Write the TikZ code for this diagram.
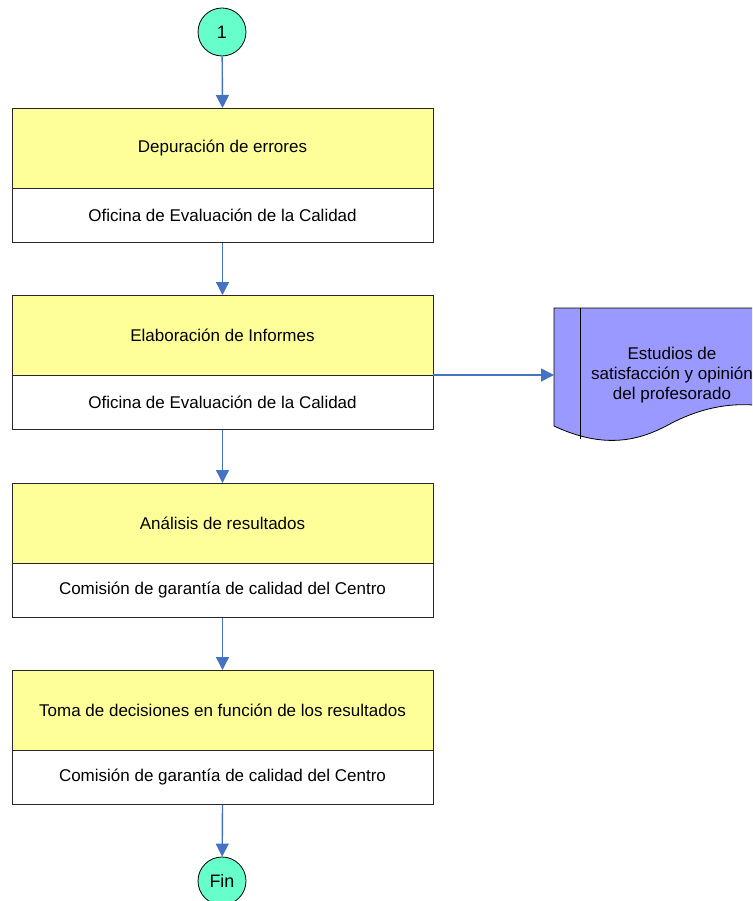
\documentclass[tikz,border=0pt]{standalone}
\usepackage{fontspec}
\setmainfont{Liberation Sans}
\usetikzlibrary{arrows.meta}
\definecolor{boxyellow}{RGB}{255,255,153}
\definecolor{termgreen}{RGB}{102,255,204}
\definecolor{docblue}{RGB}{153,153,255}
\definecolor{flowblue}{RGB}{68,114,196}
\definecolor{boxline}{RGB}{40,40,40}
\tikzset{
  titlebox/.style={draw=boxline, line width=0.8pt, fill=boxyellow, minimum width=421pt, minimum height=80pt, inner sep=0pt, anchor=north, font=\fontsize{17}{20}\selectfont},
  subbox/.style={draw=boxline, line width=0.8pt, fill=white, minimum width=421pt, minimum height=54pt, inner sep=0pt, anchor=north, font=\fontsize{17}{20}\selectfont},
  term/.style={circle, draw=black, line width=0.8pt, fill=termgreen, minimum size=48pt, inner sep=0pt, font=\fontsize{18}{20}\selectfont},
  flow/.style={draw=flowblue, line width=1.4pt, -{Triangle[length=13pt,width=13pt]}}
}
\begin{document}
\begin{tikzpicture}[x=1pt,y=-1pt]
\useasboundingbox (0,0) rectangle (752,901);
\clip (0,0) rectangle (752,901);
\fill[white] (0,0) rectangle (752,901);
% terminals
\node[term] (start) at (222,32) {1};
\node[term] (fin) at (222,881) {Fin};
% process boxes
\node[titlebox] (t1) at (222.5,108) {Depuración de errores};
\node[subbox] (s1) at (222.5,188) {Oficina de Evaluación de la Calidad};
\node[titlebox] (t2) at (222.5,295) {Elaboración de Informes};
\node[subbox] (s2) at (222.5,375) {Oficina de Evaluación de la Calidad};
\node[titlebox] (t3) at (222.5,483) {Análisis de resultados};
\node[subbox] (s3) at (222.5,563) {Comisión de garantía de calidad del Centro};
\node[titlebox] (t4) at (222.5,670) {Toma de decisiones en función de los resultados};
\node[subbox] (s4) at (222.5,750) {Comisión de garantía de calidad del Centro};
% document shape
\draw[line width=0.8pt, fill=docblue] (554,308) -- (790,308) -- (790,412)
  .. controls (745,398) and (705,405) .. (668,425)
  .. controls (640,440) and (605,450) .. (554,426) -- cycle;
\draw[line width=0.8pt] (580,308) -- (580,439);
\node[align=center, font=\fontsize{17}{20}\selectfont] (doc) at (672,375) {Estudios de\\satisfacción y opinión\\del profesorado};
\coordinate (docin) at (554,375);
% connectors
\draw[flow] (start) -- (t1.north);
\draw[flow] (s1.south) -- (t2.north);
\draw[flow] (s2.south) -- (t3.north);
\draw[flow] (s3.south) -- (t4.north);
\draw[flow] (s4.south) -- (fin);
\draw[flow] (s2.north east) -- (docin);
\end{tikzpicture}
\end{document}
